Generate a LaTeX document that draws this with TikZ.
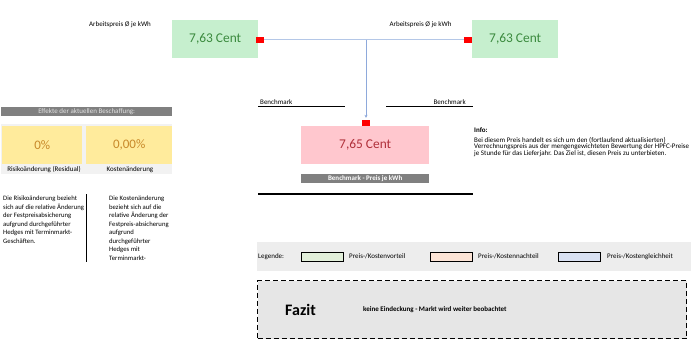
\documentclass[tikz,border=0pt]{standalone}
\usepackage{fontspec}
\setmainfont{Carlito}
\usetikzlibrary{arrows.meta}
\definecolor{gbox}{HTML}{C6EFCE}
\definecolor{gtext}{HTML}{3B8A3E}
\definecolor{pbox}{HTML}{FFC7CE}
\definecolor{ptext}{HTML}{B0303A}
\definecolor{ybox}{HTML}{FFEB9C}
\definecolor{ytext}{HTML}{C8892A}
\definecolor{bargray}{HTML}{808080}
\definecolor{lightbg}{HTML}{F2F2F2}
\definecolor{legbg}{HTML}{EDEDED}
\definecolor{fazbg}{HTML}{E6E6E6}
\definecolor{lgreen}{HTML}{E2EFDA}
\definecolor{lorange}{HTML}{FCE4D6}
\definecolor{lblue}{HTML}{D9E1F2}
\definecolor{connh}{HTML}{B4C7E7}
\definecolor{connv}{HTML}{8EA9DB}
\begin{document}
\begin{tikzpicture}[x=1pt,y=-1pt,
  small/.style={font=\fontsize{7}{8.5}\selectfont, inner sep=0},
  pricebox/.style={minimum width=86pt, minimum height=38pt, inner sep=0, anchor=north west, font=\fontsize{13.4}{15}\selectfont},
  marker/.style={fill=red, minimum width=8pt, minimum height=6pt, inner sep=0},
  bar/.style={fill=bargray, inner sep=0, anchor=north west, minimum height=9pt},
  legendbox/.style={draw=black, line width=1.3pt, minimum width=42pt, minimum height=9pt, inner sep=0, anchor=north west},
  bline/.style={draw=black, line width=0.8pt},
  para/.style={font=\fontsize{6.7}{8.5}\selectfont, inner sep=0, align=left, anchor=north west},
  infotext/.style={font=\fontsize{7}{8}\selectfont, inner sep=0, anchor=west}
]
\useasboundingbox (0,0) rectangle (691,349);
% price boxes
\node[pricebox, fill=gbox, text=gtext] (gl) at (172,20) {7,63 Cent};
\node[pricebox, fill=gbox, text=gtext] (gr) at (472,20) {7,63 Cent};
\node[pricebox, fill=pbox, text=ptext, minimum width=128pt] (pc) at (301,126) {7,65 Cent};
\node[marker] (rl) at (260,39.5) {};
\node[marker] (rr) at (468,39.5) {};
\node[marker] (rc) at (366,123) {};
\draw[connh, line width=0.8pt] (rl.east) -- (rr.west);
\draw[connv, line width=0.8pt, -{Stealth[length=3pt,width=3pt]}, shorten >=2pt] (rl.east -| rc) -- (rc.north);
% labels
\node[small] (al) at (120,25) {Arbeitspreis Ø je kWh};
\node[small] (ar) at (420.5,25) {Arbeitspreis Ø je kWh};
% benchmark
\node[small, anchor=south west] (bl) at (260,104.5) {Benchmark};
\node[small, anchor=south east] (br) at (466,104.5) {Benchmark};
\coordinate (bl1) at (258,106); \coordinate (bl2) at (345,106);
\coordinate (br1) at (386,106); \coordinate (br2) at (473,106);
\draw[bline] (bl1) -- (bl2);
\draw[bline] (br1) -- (br2);
\node[bar, minimum width=128pt, text=white, font=\bfseries\fontsize{7}{7}\selectfont] (bb) at (301,174) {Benchmark - Preis je kWh};
\coordinate (ul1) at (258,194); \coordinate (ul2) at (473,194);
\draw[draw=black, line width=1.7pt] (ul1) -- (ul2);
% info
\begin{scope}
\clip (0,0) rectangle (691,349);
\node[infotext, font=\bfseries\fontsize{7}{8}\selectfont] (info) at (474,130.5) {Info:};
\node[infotext] (info1) at (474,140.3) {Bei diesem Preis handelt es sich um den (fortlaufend aktualisierten)};
\node[infotext] (info2) at (474,147) {Verrechnungspreis aus der mengengewichteten Bewertung der HPFC-Preise};
\node[infotext] (info3) at (474,154) {je Stunde für das Lieferjahr. Das Ziel ist, diesen Preis zu unterbieten.};
\end{scope}
% left panel
\node[bar, minimum width=171pt, text=lightbg!85!gray, font=\fontsize{7}{7}\selectfont] (eff) at (1,107) {Effekte der aktuellen Beschaffung:};
\node[fill=lightbg, minimum width=171pt, minimum height=50pt, inner sep=0, anchor=north west] (bg) at (1,124) {};
\node[fill=ybox, text=ytext, minimum width=80pt, minimum height=38pt, inner sep=0, anchor=north west, font=\fontsize{13}{15}\selectfont] (y1) at (2,126) {0\%};
\node[fill=ybox, text=ytext, minimum width=86pt, minimum height=38pt, inner sep=0, anchor=north west, font=\fontsize{13}{15}\selectfont] (y2) at (86,126) {0,00\%};
\node[small] (l1) at (44,169.5) {Risikoänderung (Residual)};
\node[small] (l2) at (130,169.5) {Kostenänderung};
\node[para] (p1) at (3,196) {Die Risikoänderung bezieht\\sich auf die relative Änderung\\der Festpreisabsicherung\\aufgrund durchgeführter\\Hedges mit Terminmarkt-\\Geschäften.};
\node[para] (p2) at (109,196) {Die Kostenänderung\\bezieht sich auf die\\relative Änderung der\\Festpreis-absicherung\\aufgrund\\durchgeführter\\Hedges mit\\Terminmarkt-};
\coordinate (v1) at (86,194); \coordinate (v2) at (86,262);
\draw[bline] (v1) -- (v2);
% legend
\node[fill=legbg, minimum width=434pt, minimum height=29pt, inner sep=0, anchor=north west] (leg) at (257,242) {};
\node[small, anchor=west] (legt) at (258,256.5) {Legende:};
\node[legendbox, fill=lgreen] (lg1) at (301,252) {};
\node[small, anchor=west] (lgt1) at (349,256.5) {Preis-/Kostenvorteil};
\node[legendbox, fill=lorange] (lg2) at (430,252) {};
\node[small, anchor=west] (lgt2) at (478,256.5) {Preis-/Kostennachteil};
\node[legendbox, fill=lblue] (lg3) at (558,252) {};
\node[small, anchor=west] (lgt3) at (607,256.5) {Preis-/Kostengleichheit};
% fazit
\node[draw=black, dash pattern=on 5pt off 3pt, line width=1.2pt, fill=fazbg, minimum width=429pt, minimum height=58pt, inner sep=0, anchor=north west] (faz) at (257,280) {};
\node[anchor=west, inner sep=0, font=\bfseries\fontsize{16}{18}\selectfont] (fazt) at (285,310) {Fazit};
\node[anchor=west, inner sep=0, font=\bfseries\fontsize{7}{8}\selectfont] (fazx) at (363,310) {keine Eindeckung - Markt wird weiter beobachtet};
\end{tikzpicture}
\end{document}
